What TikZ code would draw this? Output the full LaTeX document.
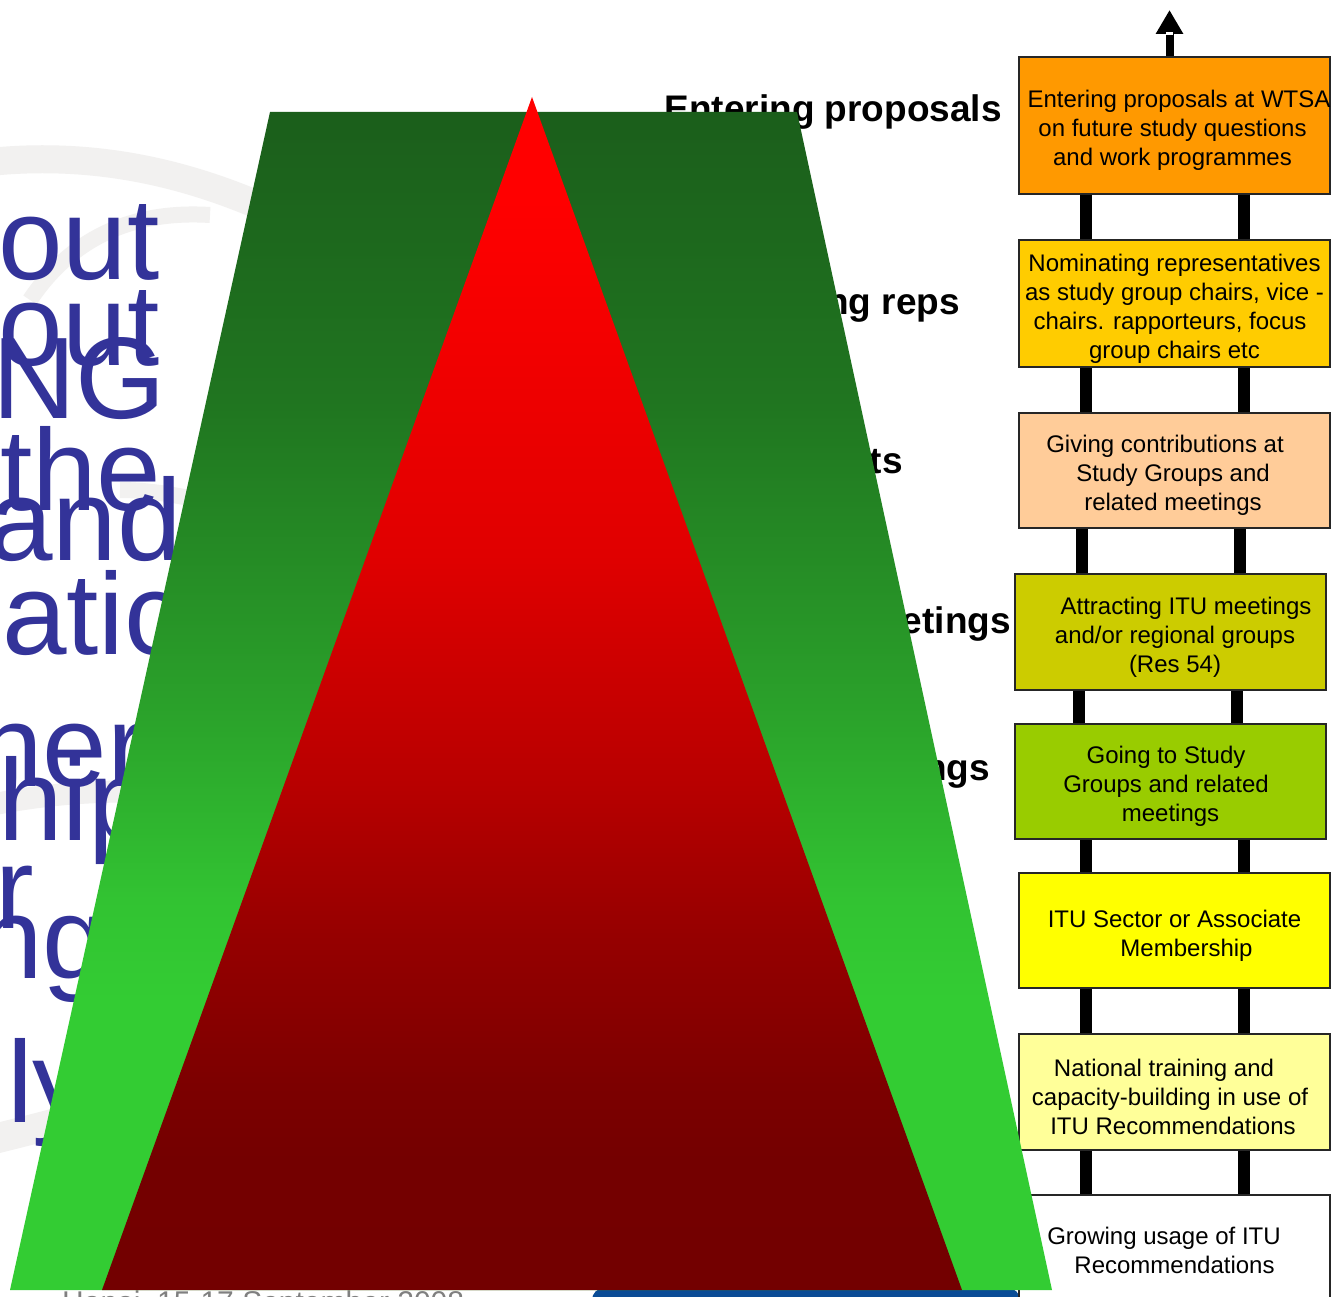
\documentclass[tikz,border=0pt]{standalone}
\usepackage{fontspec}
\setmainfont{Liberation Sans}
\usetikzlibrary{arrows.meta}
\definecolor{itublue}{RGB}{51,51,153}
\definecolor{wmgray}{RGB}{242,241,240}
\definecolor{cOne}{RGB}{255,153,0}
\definecolor{cTwo}{RGB}{255,204,0}
\definecolor{cThree}{RGB}{255,204,153}
\definecolor{cFour}{RGB}{204,204,0}
\definecolor{cFive}{RGB}{153,204,0}
\definecolor{cSix}{RGB}{255,255,0}
\definecolor{cSeven}{RGB}{255,255,153}
\definecolor{footblue}{RGB}{10,76,150}
\pgfdeclareverticalshading{redsh}{100bp}{%
  rgb(0bp)=(0.451,0,0); rgb(25bp)=(0.451,0,0); rgb(30.45bp)=(0.455,0,0);
  rgb(33.55bp)=(0.486,0,0); rgb(39.88bp)=(0.588,0,0); rgb(46.25bp)=(0.722,0,0);
  rgb(55.8bp)=(0.878,0,0); rgb(70.68bp)=(1,0,0); rgb(75bp)=(1,0,0); rgb(100bp)=(1,0,0)}
\pgfdeclareverticalshading{greensh}{100bp}{%
  rgb(0bp)=(0.2,0.8,0.2); rgb(25bp)=(0.2,0.8,0.2); rgb(37.31bp)=(0.2,0.8,0.2);
  rgb(41.55bp)=(0.196,0.765,0.196); rgb(50.04bp)=(0.165,0.627,0.165);
  rgb(62.78bp)=(0.125,0.459,0.125); rgb(75bp)=(0.106,0.369,0.106); rgb(100bp)=(0.106,0.369,0.106)}
\begin{document}
\begin{tikzpicture}[x=1pt,y=-1pt,
  box/.style={draw=black!85, line width=1.5pt, inner sep=0pt},
  boxtxt/.style={inner sep=0pt, align=center, yshift=-5pt,
    font={\fontsize{24}{29}\selectfont}},
  rail/.style={line width=12pt, black},
  bigtxt/.style={text=itublue, inner sep=0pt, anchor=base west,
    font={\fontsize{116}{116}\selectfont}},
  lbl/.style={inner sep=0pt, anchor=base east, font={\fontsize{37}{40}\selectfont\bfseries}},
  wm/.style={wmgray, line width=28pt},
  uparrow/.style={line width=8pt, -{Triangle[width=26pt,length=24pt]}}]
\useasboundingbox (0,0) rectangle (1332,1297);
\clip (0,0) rectangle (1332,1297);
\fill[white] (0,0) rectangle (1332,1297);
% watermark
\draw[wm] (-20,163) .. controls (90,150) and (200,170) .. (320,235);
\draw[wm, line width=16pt] (30,300) .. controls (70,240) and (130,210) .. (210,215);
\draw[wm, line width=16pt] (120,490) .. controls (160,490) and (200,500) .. (240,510);
\draw[wm, line width=22pt] (-10,805) .. controls (40,795) and (90,790) .. (150,792);
\draw[wm, line width=30pt] (-10,1140) .. controls (30,1130) and (70,1120) .. (120,1105);
% left title fragments
\node[bigtxt] (t1) at (-2,279) {out};
\node[bigtxt] (t2) at (-2,365) {out};
\node[bigtxt] (t3) at (-8,418) {NG};
\node[bigtxt] (t4) at (0,510) {the};
\node[bigtxt] (t5) at (-12,560) {and};
\node[bigtxt] (t6) at (2,654) {atic};
\node[bigtxt] (t7) at (-22,786) {ner};
\node[bigtxt] (t8) at (-2,840) {hip};
\node[bigtxt] (t9) at (-5,928) {r};
\node[bigtxt] (t10) at (-22,978) {ng};
\node[bigtxt] (t11) at (7,1122) {ly};
% footer
\node[inner sep=0pt, anchor=base west, text=black!50, font={\fontsize{30}{30}\selectfont}] (foot) at (62,1312) {Hanoi, 15-17 September 2008};
\fill[footblue, rounded corners=12pt] (592,1288) rectangle (1020,1320);
% bold labels
\node[lbl] (l1) at (1002,122) {Entering proposals};
\node[lbl] (l2) at (960,314) {ng reps};
\node[lbl] (l3) at (903,473) {ts};
\node[lbl] (l4) at (1011,633) {etings};
\node[lbl] (l5) at (990,780) {ngs};
% boxes
\node[box, fill=cOne, minimum width=311pt, minimum height=137pt] (b1) at (1174.5,125.5) {};
\node[boxtxt] (b1t) at (b1) {\hspace*{9pt}Entering proposals at WTSA\\\hspace*{-4pt}on future study questions\\\hspace*{-4pt}and work programmes};
\node[box, fill=cTwo, minimum width=311pt, minimum height=127pt] (b2) at (1174.5,303.5) {};
\node[boxtxt] (b2t) at (b2) {Nominating representatives\\as study group chairs, vice -\\\hspace*{-9pt}chairs. rapporteurs, focus\\group chairs etc};
\node[box, fill=cThree, minimum width=311pt, minimum height=115pt] (b3) at (1174.5,470.5) {};
\node[boxtxt] (b3t) at (b3) {\hspace*{-19pt}Giving contributions at\\\hspace*{-3pt}Study Groups and\\\hspace*{-3pt}related meetings};
\node[box, fill=cFour, minimum width=311pt, minimum height=116pt] (b4) at (1170.5,632) {};
\node[boxtxt] (b4t) at (b4) {\hspace*{31pt}Attracting ITU meetings\\\hspace*{9pt}and/or regional groups\\\hspace*{9pt}(Res 54)};
\node[box, fill=cFive, minimum width=311pt, minimum height=115pt] (b5) at (1170.5,781.5) {};
\node[boxtxt] (b5t) at (b5) {\hspace*{-9pt}Going to Study\\\hspace*{-9pt}Groups and related\\meetings};
\node[box, fill=cSix, minimum width=311pt, minimum height=115pt] (b6) at (1174.5,930.5) {};
\node[boxtxt] (b6t) at (b6) {ITU Sector or Associate\\\hspace*{24pt}Membership};
\node[box, fill=cSeven, minimum width=311pt, minimum height=116pt] (b7) at (1174.5,1092) {};
\node[boxtxt] (b7t) at (b7) {\hspace*{-21pt}National training and\\\hspace*{-9pt}capacity-building in use of\\\hspace*{-3pt}ITU Recommendations};
\node[box, fill=white, minimum width=311pt, minimum height=105pt] (b8) at (1174.5,1247.5) {};
\node[boxtxt] (b8t) at (1174.5,1245) {\hspace*{-21pt}Growing usage of ITU\\Recommendations};
% rails
\coordinate (rA) at (1086,0);
\coordinate (rB) at (1244,0);
\coordinate (rC) at (1082,0);
\coordinate (rD) at (1240,0);
\coordinate (rE) at (1079,0);
\coordinate (rF) at (1237,0);
\draw[rail] (rA |- b1.south) -- (rA |- b2.north);
\draw[rail] (rB |- b1.south) -- (rB |- b2.north);
\draw[rail] (rA |- b2.south) -- (rA |- b3.north);
\draw[rail] (rB |- b2.south) -- (rB |- b3.north);
\draw[rail] (rC |- b3.south) -- (rC |- b4.north);
\draw[rail] (rD |- b3.south) -- (rD |- b4.north);
\draw[rail] (rE |- b4.south) -- (rE |- b5.north);
\draw[rail] (rF |- b4.south) -- (rF |- b5.north);
\draw[rail] (rA |- b5.south) -- (rA |- b6.north);
\draw[rail] (rB |- b5.south) -- (rB |- b6.north);
\draw[rail] (rA |- b6.south) -- (rA |- b7.north);
\draw[rail] (rB |- b6.south) -- (rB |- b7.north);
\draw[rail] (rA |- b7.south) -- (rA |- b8.north);
\draw[rail] (rB |- b7.south) -- (rB |- b8.north);
% top arrow
\coordinate (tip) at (1169.5,10);
\draw[uparrow] (b1.north -| tip) -- (tip);
\fill[white] (1166,32) rectangle (1173,35);
% pyramid
\shade[shading=greensh]
  (270,112) -- (797,112) -- (1052,1290) -- (10,1290) -- cycle;
\shade[shading=redsh]
  (532,97) -- (962,1290) -- (102,1290) -- cycle;
\end{tikzpicture}
\end{document}
